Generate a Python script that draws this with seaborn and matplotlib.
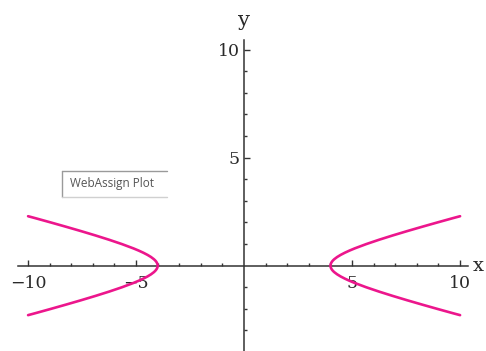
import matplotlib
matplotlib.use("Agg")
import matplotlib.pyplot as plt
from matplotlib.lines import Line2D
from matplotlib.patches import Rectangle
from matplotlib.ticker import FixedLocator
import seaborn as sns
import pandas as pd

# Right branch of the hyperbola, traced from bottom to top (x, y)
branch_y = [-2.29, -2.2, -2.0, -1.8, -1.6, -1.4, -1.2, -1.0, -0.8, -0.7, -0.6, -0.5,
            -0.4, -0.3, -0.25, -0.2, -0.15, -0.1, -0.05, 0.0, 0.05, 0.1, 0.15, 0.2,
            0.25, 0.3, 0.4, 0.5, 0.6, 0.7, 0.8, 1.0, 1.2, 1.4, 1.6, 1.8, 2.0, 2.2, 2.29]
branch_x = [10.0, 9.666, 8.944, 8.237, 7.547, 6.882, 6.248, 5.657, 5.122, 4.883, 4.665, 4.472,
            4.308, 4.176, 4.123, 4.079, 4.045, 4.020, 4.005, 4.0, 4.005, 4.020, 4.045, 4.079,
            4.123, 4.176, 4.308, 4.472, 4.665, 4.883, 5.122, 5.657, 6.248, 6.882, 7.547, 8.237,
            8.944, 9.666, 10.0]

x_ticks = [-10, -5, 5, 10]
x_tick_labels = ["\u221210", "\u22125", "5", "10"]
x_minor = [-9, -8, -7, -6, -4, -3, -2, -1, 1, 2, 3, 4, 6, 7, 8, 9]
y_ticks = [5, 10]
y_tick_labels = ["5", "10"]
y_minor = [-3, -2, -1, 1, 2, 3, 4, 6, 7, 8, 9]

curve_color = "#EC168C"
axis_color = "#333333"
text_color = "#2a2a2a"

sns.set_theme(style="white")
plt.rcParams["font.family"] = ["DejaVu Serif"]

fig = plt.figure(figsize=(4.86, 3.51), dpi=100)
ax = fig.add_axes([0, 0, 1, 1])
ax.set_xlim(-11.30, 11.20)
ax.set_ylim(-3.95, 12.30)

right = pd.DataFrame({"x": branch_x, "y": branch_y})
left = pd.DataFrame({"x": [-v for v in branch_x], "y": branch_y})
for df in (right, left):
    sns.lineplot(data=df, x="x", y="y", sort=False, estimator=None,
                 color=curve_color, linewidth=1.9, ax=ax, zorder=3)

ax.set_xlabel("")
ax.set_ylabel("")

# Axes through the origin
for side in ("top", "right"):
    ax.spines[side].set_visible(False)
ax.spines["bottom"].set_position(("data", 0))
ax.spines["left"].set_position(("data", 0))
ax.spines["bottom"].set_bounds(-10.46, 10.37)
ax.spines["left"].set_bounds(-3.95, 10.45)
for side in ("bottom", "left"):
    ax.spines[side].set_color(axis_color)
    ax.spines[side].set_linewidth(1.1)
    ax.spines[side].set_visible(True)

ax.xaxis.set_major_locator(FixedLocator(x_ticks))
ax.xaxis.set_minor_locator(FixedLocator(x_minor))
ax.yaxis.set_major_locator(FixedLocator(y_ticks))
ax.yaxis.set_minor_locator(FixedLocator(y_minor))
ax.set_xticklabels(x_tick_labels)
ax.set_yticklabels(y_tick_labels)

ax.tick_params(axis="both", which="major", direction="in", length=4, width=1.0,
               color=axis_color, labelsize=12.5, labelcolor=text_color,
               bottom=True, left=True)
ax.tick_params(axis="both", which="minor", direction="in", length=2.5, width=1.0,
               color=axis_color, bottom=True, left=True)
ax.tick_params(axis="x", which="major", pad=7)
ax.tick_params(axis="y", which="major", pad=3)

# Axis names at the ends of the axes
ax.text(10.6, 0, "x", fontsize=14, color=text_color, ha="left", va="center")
ax.text(0, 11.35, "y", fontsize=15, color=text_color, ha="center", va="center")

# Caption box
W, H = 486.0, 351.0
x0, x1, y0, y1 = 62 / W, 167 / W, 1 - 197 / H, 1 - 171 / H
fig.patches.append(Rectangle((x0, y0), x1 - x0, y1 - y0, transform=fig.transFigure,
                             facecolor="white", edgecolor="none", zorder=5))
fig.lines.append(Line2D([x0, x0], [y0, y1], transform=fig.transFigure, color="#9a9a9a", lw=1.0, zorder=6))
fig.lines.append(Line2D([x0, x1], [y1, y1], transform=fig.transFigure, color="#9a9a9a", lw=1.0, zorder=6))
fig.lines.append(Line2D([x0, x1], [y0, y0], transform=fig.transFigure, color="#d0d0d0", lw=1.0, zorder=6))
fig.text(70 / W, 1 - 184 / H, "WebAssign Plot", fontsize=8.5, color="#555555",
         family=["Open Sans", "DejaVu Sans"], ha="left", va="center", zorder=7)

fig.savefig("out.png", dpi=100)
